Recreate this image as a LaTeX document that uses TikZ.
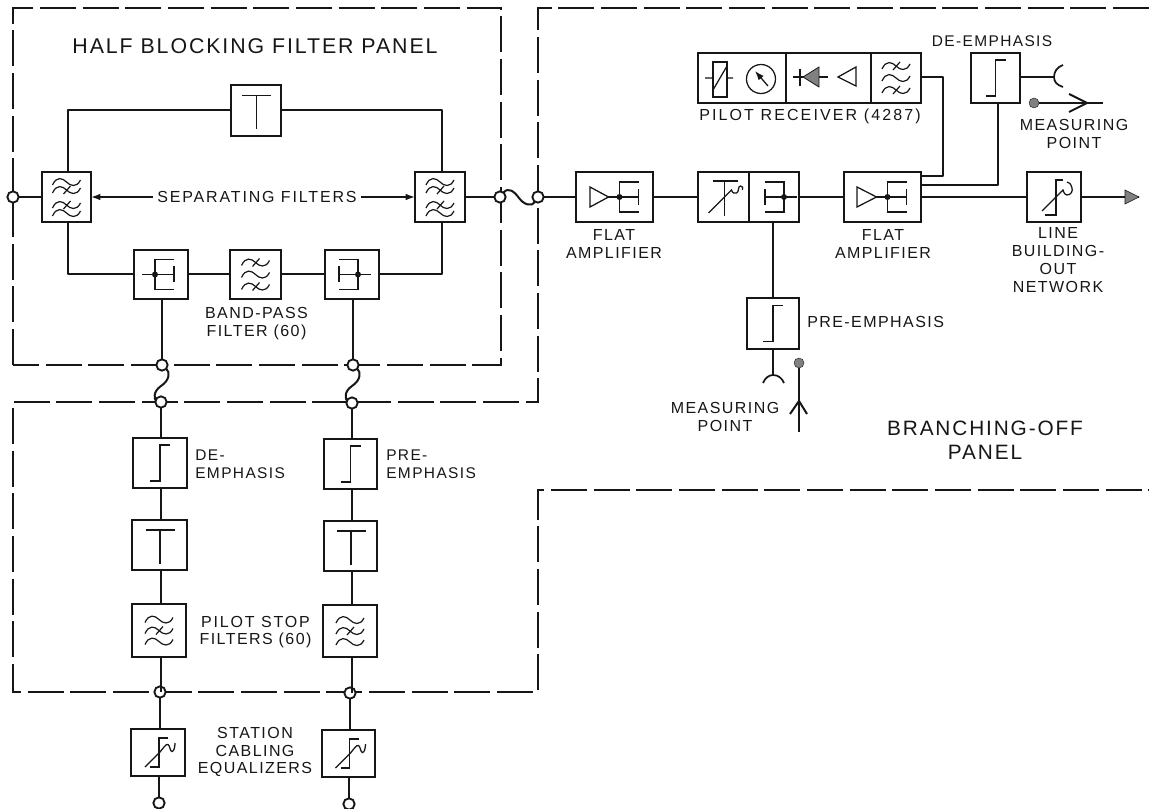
\documentclass[tikz,border=0pt]{standalone}
\usepackage{fontspec}
\setmainfont[LetterSpace=9]{Liberation Sans}
\newfontfamily\widefont[LetterSpace=13.3]{Liberation Sans}
\newfontfamily\semifont[LetterSpace=11.5]{Liberation Sans}
\usetikzlibrary{calc,arrows.meta}
\definecolor{ink}{HTML}{161616}
\definecolor{ballgray}{HTML}{808080}
\newcommand\bx[5]{\node[rect,minimum width={(#4-#2)*0.75pt},minimum height={(#5-#3)*0.75pt}] (#1) at ({(#2+#4)/2},{(#3+#5)/2}) {};}
\newcommand\tld{(-14,3) .. controls (-10,-6) and (-4,-4) .. (0,0) .. controls (4,4) and (10,6) .. (14,-2)}
\newcommand\tlx{(-3,4) -- (4,-4)}
\tikzset{
  wire/.style={draw=ink,line width=1.5pt,line join=round},
  thin wire/.style={draw=ink,line width=1.1pt,line join=round},
  sym/.style={draw=ink,line width=.95pt,line join=miter},
  rect/.style={draw=ink,line width=1.6pt,inner sep=0pt,outer sep=0pt},
  port/.style={circle,draw=ink,line width=1.4pt,fill=white,minimum size=8.5pt,inner sep=0pt,outer sep=0pt},
  ball/.style={circle,fill=ballgray,draw=ink,line width=.3pt,minimum size=7.5pt,inner sep=0pt,outer sep=0pt},
  panel/.style={draw=ink,line width=1.4pt,dash pattern=on 27pt off 5pt},
  lbl/.style={font=\fontsize{12}{13.4}\selectfont,text=ink,inner sep=3pt,align=center},
  widelbl/.style={font=\widefont\fontsize{12}{13.4}\selectfont,text=ink,inner sep=3pt,align=center},
  semilbl/.style={font=\semifont\fontsize{12}{13.4}\selectfont,text=ink,inner sep=3pt,align=center},
  biglbl/.style={font=\fontsize{16}{18}\selectfont,text=ink,inner sep=3pt,align=center},
  teesym/.pic={\draw[sym] (-14,-15) -- (15,-15) (0.5,-15) -- (0.5,19);},
  stepsym/.pic={\draw[sym] (10,-18) -- (0,-18) -- (0,18) -- (-10,18);},
  sepsym/.pic={\draw[sym,line width=.9pt]
     [shift={(0,-15)}] \tld;
     \draw[sym,line width=.9pt] [shift={(0,-7)}] \tld \tlx;
     \draw[sym,line width=.9pt] [shift={(0,8)}] \tld \tlx;
     \draw[sym,line width=.9pt] [shift={(0,16)}] \tld;},
  triA/.pic={\draw[sym,line width=.9pt] [shift={(0,-12)}] \tld \tlx;
     \draw[sym,line width=.9pt] \tld;
     \draw[sym,line width=.9pt] [shift={(0,12)}] \tld \tlx;},
  triB/.pic={\draw[sym,line width=.9pt] [shift={(0,-11)}] \tld;
     \draw[sym,line width=.9pt] \tld \tlx;
     \draw[sym,line width=.9pt] [shift={(0,11)}] \tld;},
  ampsym/.pic={\draw[sym] (-19,0) -- (12,0) (13,-15) -- (-6,-15) -- (-6,15) -- (13,15) (13,-8) -- (13,8);
     \fill[ink] (-6,0) circle (3);},
  eqzsym/.pic={\draw[sym] (10,-14.5) -- (1,-14.5) -- (1,14.5) -- (-8,14.5);
     \draw[sym] (-13,14.5) -- (2,-0.5) .. controls (5,-4) and (8,-9) .. (10,-8) .. controls (12,-7) and (12,-1) .. (14,-1) .. controls (16,-1) and (17,-6) .. (17,-9.5);},
  lbosym/.pic={\draw[sym] (9,-17) -- (2,-17) -- (2,18) -- (-9,18);
     \draw[sym] (-12,14) -- (9,-7) .. controls (10,-3) and (12,-2) .. (13,-2) .. controls (17,-2) and (19,-6) .. (18,-9) .. controls (17,-13) and (15,-15) .. (13,-15);},
}
\begin{document}
\begin{tikzpicture}[x=0.75pt,y=-0.75pt]
\useasboundingbox (0,0) rectangle (1149,809);
% panels
\draw[panel] (13,365) -- (13,8) -- (501,8) -- (501,365) -- (13,365);
\draw[panel] (1149,8) -- (538,8) -- (538,402) -- (13,402) -- (13,692) -- (538,692) -- (538,490) -- (1149,490);
% boxes
\bx{sfL}{42}{172}{91}{222}
\bx{sfR}{415}{172}{465}{222}
\bx{tee}{231}{85}{281}{136}
\bx{hyA}{134}{250}{188}{299}
\bx{bpf}{230}{250}{281}{299}
\bx{hyB}{325}{250}{379}{299}
\bx{ampA}{576}{172}{653}{222}
\bx{att}{698}{172}{749}{222}
\bx{hyC}{749}{172}{799}{222}
\bx{ampB}{844}{172}{921}{222}
\bx{lbo}{1027}{172}{1081}{222}
\bx{prA}{698}{53}{786}{103}
\bx{prB}{786}{53}{871}{103}
\bx{prC}{871}{53}{921}{103}
\bx{deT}{971}{53}{1020}{103}
\bx{preC}{747}{298}{799}{349}
\bx{deL}{133}{438}{187}{488}
\bx{teeL}{132}{520}{187}{570}
\bx{fL}{132}{604}{186}{657}
\bx{eqL}{131}{729}{185}{776}
\bx{deR}{324}{439}{377}{489}
\bx{teeR}{324}{521}{377}{571}
\bx{fR}{323}{605}{377}{657}
\bx{eqR}{322}{730}{375}{777}
% ports
\node[port] (inL) at (13,197) {};
\node[port] (pA) at (500,197) {};
\node[port] (pB) at (538,197) {};
\node[port] (c1) at (162,365) {};
\node[port] (c2) at (161,402) {};
\node[port] (c3) at (160,692) {};
\node[port] (c4) at (159,803) {};
\node[port] (d1) at (353,365) {};
\node[port] (d2) at (352,403) {};
\node[port] (d3) at (350,693) {};
\node[port] (d4) at (349,804) {};
\node[ball] (mpT) at (1034,103) {};
\node[ball] (mpB) at (799,363) {};
\coordinate (jackT) at (1054,77);
\coordinate (jackB) at (773,375);
\coordinate (tipT) at (1087,103);
\coordinate (endT) at (1103,103);
\coordinate (tipB) at (799,401);
\coordinate (endB) at (799,432);
\coordinate (outEnd) at (1139,197);
% wires
\draw[wire] (inL) -- (inL -| sfL.west);
\draw[wire] ([xshift=1pt]sfL.north) |- (tee.west);
\draw[wire] (tee.east) -| ([xshift=1.5pt]sfR.north);
\draw[wire] ([xshift=1pt]sfL.south) |- (hyA.west);
\draw[wire] (hyA.east) -- (bpf.west);
\draw[wire] (bpf.east) -- (hyB.west);
\draw[wire] (hyB.east) -| ([xshift=1.5pt]sfR.south);
\draw[wire] (sfR.east) -- (pA);
\draw[wire] (pA) .. controls (508,187) and (514,191) .. (519,198) .. controls (524,205) and (532,207) .. (pB);
\draw[wire] (pB) -- (ampA.west);
\draw[wire] (ampA.east) -- (att.west);
\draw[wire] (hyC.east) -- (ampB.west);
\draw[wire] (ampB.east) -- (lbo.west);
\draw[wire,line width=2pt] (lbo.east) -- (outEnd) ;
\draw[draw=ink,fill=ballgray,line width=.4pt] (1125,190) -- (outEnd) -- (1125,204) -- cycle;
\draw[wire] ($(prC.east)+(0,-1)$) -- ++(22,0) -- ($(ampB.east)+(22,-21)$) -- ($(ampB.east)+(0,-21)$);
\draw[wire] ($(ampB.east)+(0,-12)$) -| ([xshift=2pt]deT.south);
\draw[wire] (deT.east |- jackT) -- (jackT);
\draw[wire,line width=1.3pt] (1063,65) .. controls (1057,67) and (1054,72) .. (jackT) .. controls (1054,82) and (1057,85) .. (1063,87);
\draw[wire] (mpT) -- (endT);
\draw[wire] ($(tipT)+(-18,-9)$) -- (tipT) -- ($(tipT)+(-18,9)$);
\draw[wire] (att.south -| preC.north) -- (preC.north);
\draw[wire] (preC.south) -- (jackB);
\draw[wire,line width=1.3pt] (763,383) .. controls (765,378) and (769,375) .. (jackB) .. controls (778,375) and (782,378) .. (784,383);
\draw[wire] (mpB) -- (endB);
\draw[wire] ($(tipB)+(-9,13)$) -- (tipB) -- ($(tipB)+(8,13)$);
\draw[wire] (hyA.south -| c1) -- (c1);
\draw[wire] (hyB.south -| d1) -- (d1);
\draw[wire] (c1) .. controls (170,372) and (170,380) .. (161,386) .. controls (152,392) and (155,400) .. (c2);
\draw[wire] (d1) .. controls (361,372) and (361,380) .. (352,386) .. controls (343,392) and (346,400) .. (d2);
\draw[wire] (c2) -- (c2 |- deL.north);
\draw[wire] (c2 |- deL.south) -- (c2 |- teeL.north);
\draw[wire] (c2 |- teeL.south) -- (c2 |- fL.north);
\draw[wire] (c2 |- fL.south) -- (c2 |- c3);
\draw[wire] (c3) -- (c3 |- eqL.north);
\draw[wire] (c4 |- eqL.south) -- (c4);
\draw[wire] (d2) -- (d2 |- deR.north);
\draw[wire] (d2 |- deR.south) -- (d2 |- teeR.north);
\draw[wire] (d2 |- teeR.south) -- (d2 |- fR.north);
\draw[wire] (d2 |- fR.south) -- (d2 |- d3);
\draw[wire] (d3) -- (d3 |- eqR.north);
\draw[wire] (d4 |- eqR.south) -- (d4);
% symbols
\pic at (sfL) {sepsym};
\pic at (sfR) {sepsym};
\pic at (tee) {teesym};
\pic at (hyA) {ampsym};
\pic at (bpf) {triA};
\pic[xscale=-1] at (hyB) {ampsym};
\pic[xscale=-1] at ($(hyC)+(4,0)$) {ampsym};
\begin{scope}[shift={(ampA)}]
\draw[sym] (-24.5,-10) -- (-24.5,10) -- (-6,0) -- cycle;
\pic at (11,0) {ampsym};
\end{scope}
\begin{scope}[shift={(ampB)}]
\draw[sym] (-25.5,-10) -- (-25.5,10) -- (-6,0) -- cycle;
\pic at (11,0) {ampsym};
\end{scope}
\begin{scope}[shift={(att)}]
\draw[sym] (-11,-16) -- (14,-16) (1,-16) -- (1,19);
\draw[sym] (-15,16) -- (8,-7) .. controls (9,-4) and (11,-3) .. (13,-4) .. controls (16,-5) and (14,-11) .. (17,-11) .. controls (19,-11) and (20,-9) .. (19,-7);
\end{scope}
\pic at (lbo) {lbosym};
\pic at (eqL) {eqzsym};
\pic at (eqR) {eqzsym};
\pic at (deT) {stepsym};
\pic at (preC) {stepsym};
\pic at (deL) {stepsym};
\pic at (deR) {stepsym};
\pic at (teeL) {teesym};
\pic at (teeR) {teesym};
\pic at (fL) {triB};
\pic at (fR) {triB};
\pic at (prC) {triA};
% pilot receiver internals
\draw[sym] (713,62) rectangle (727,97);
\draw[sym] (705,78) -- (713,78) (727,78) -- (733,78) (713,90) -- (727,66);
\draw[sym] (761,79) circle (14.5);
\draw[sym,-{Latex[length=7pt,width=5pt]}] (768,86) -- (755,71);
\draw[sym] (793,77) -- (828,77) (800,69) -- (800,86);
\fill[ballgray,draw=ink,line width=.6pt] (803,77) -- (819,67) -- (819,87) -- cycle;
\draw[sym] (856,67) -- (838,77) -- (856,86) -- cycle;
% labels
\node[biglbl] (tPanel) at (255,46) {HALF BLOCKING FILTER PANEL};
\node[semilbl] (sep) at (257,197) {SEPARATING FILTERS};
\draw[thin wire,-{Latex[length=7pt,width=5pt]}] (sep.west) -- (sfL.east);
\draw[thin wire,-{Latex[length=7pt,width=5pt]}] (sep.east) -- (sfR.west);
\node[lbl] (tBand) at (256.5,324) {BAND-PASS\\FILTER (60)};
\node[lbl] (tAmpA) at (614,244) {FLAT\\AMPLIFIER};
\node[lbl] (tAmpB) at (883,244) {FLAT\\AMPLIFIER};
\node[lbl] (tLine) at (1058,260) {LINE\\BUILDING-\\OUT\\NETWORK};
\node[lbl,anchor=west,inner xsep=0pt] (tPre) at (807,322) {PRE-EMPHASIS};
\node[lbl] (tMpB) at (725,417) {MEASURING\\POINT};
\node[biglbl,font=\fontsize{15.6}{18}\selectfont] (tBr) at (985,440) {BRANCHING-OFF\\PANEL};
\node[widelbl,anchor=west,inner xsep=0pt] (tPilot) at (699,116) {PILOT RECEIVER (4287)};
\node[lbl,font=\fontsize{11.6}{13.4}\selectfont] (tDeT) at (992,41) {DE-EMPHASIS};
\node[lbl] (tMpT) at (1074,134) {MEASURING\\POINT};
\node[lbl,font=\fontsize{11.6}{13.4}\selectfont,anchor=west,inner xsep=0pt,align=left] (tDeL) at (195,464) {DE-\\EMPHASIS};
\node[lbl,font=\fontsize{11.6}{13.4}\selectfont,anchor=west,inner xsep=0pt,align=left] (tPreL) at (386,464) {PRE-\\EMPHASIS};
\node[lbl] (tStop) at (255.5,632) {{\semifont PILOT STOP}\\FILTERS (60)};
\node[lbl] (tEq) at (255,752) {STATION\\CABLING\\EQUALIZERS};
\end{tikzpicture}
\end{document}
